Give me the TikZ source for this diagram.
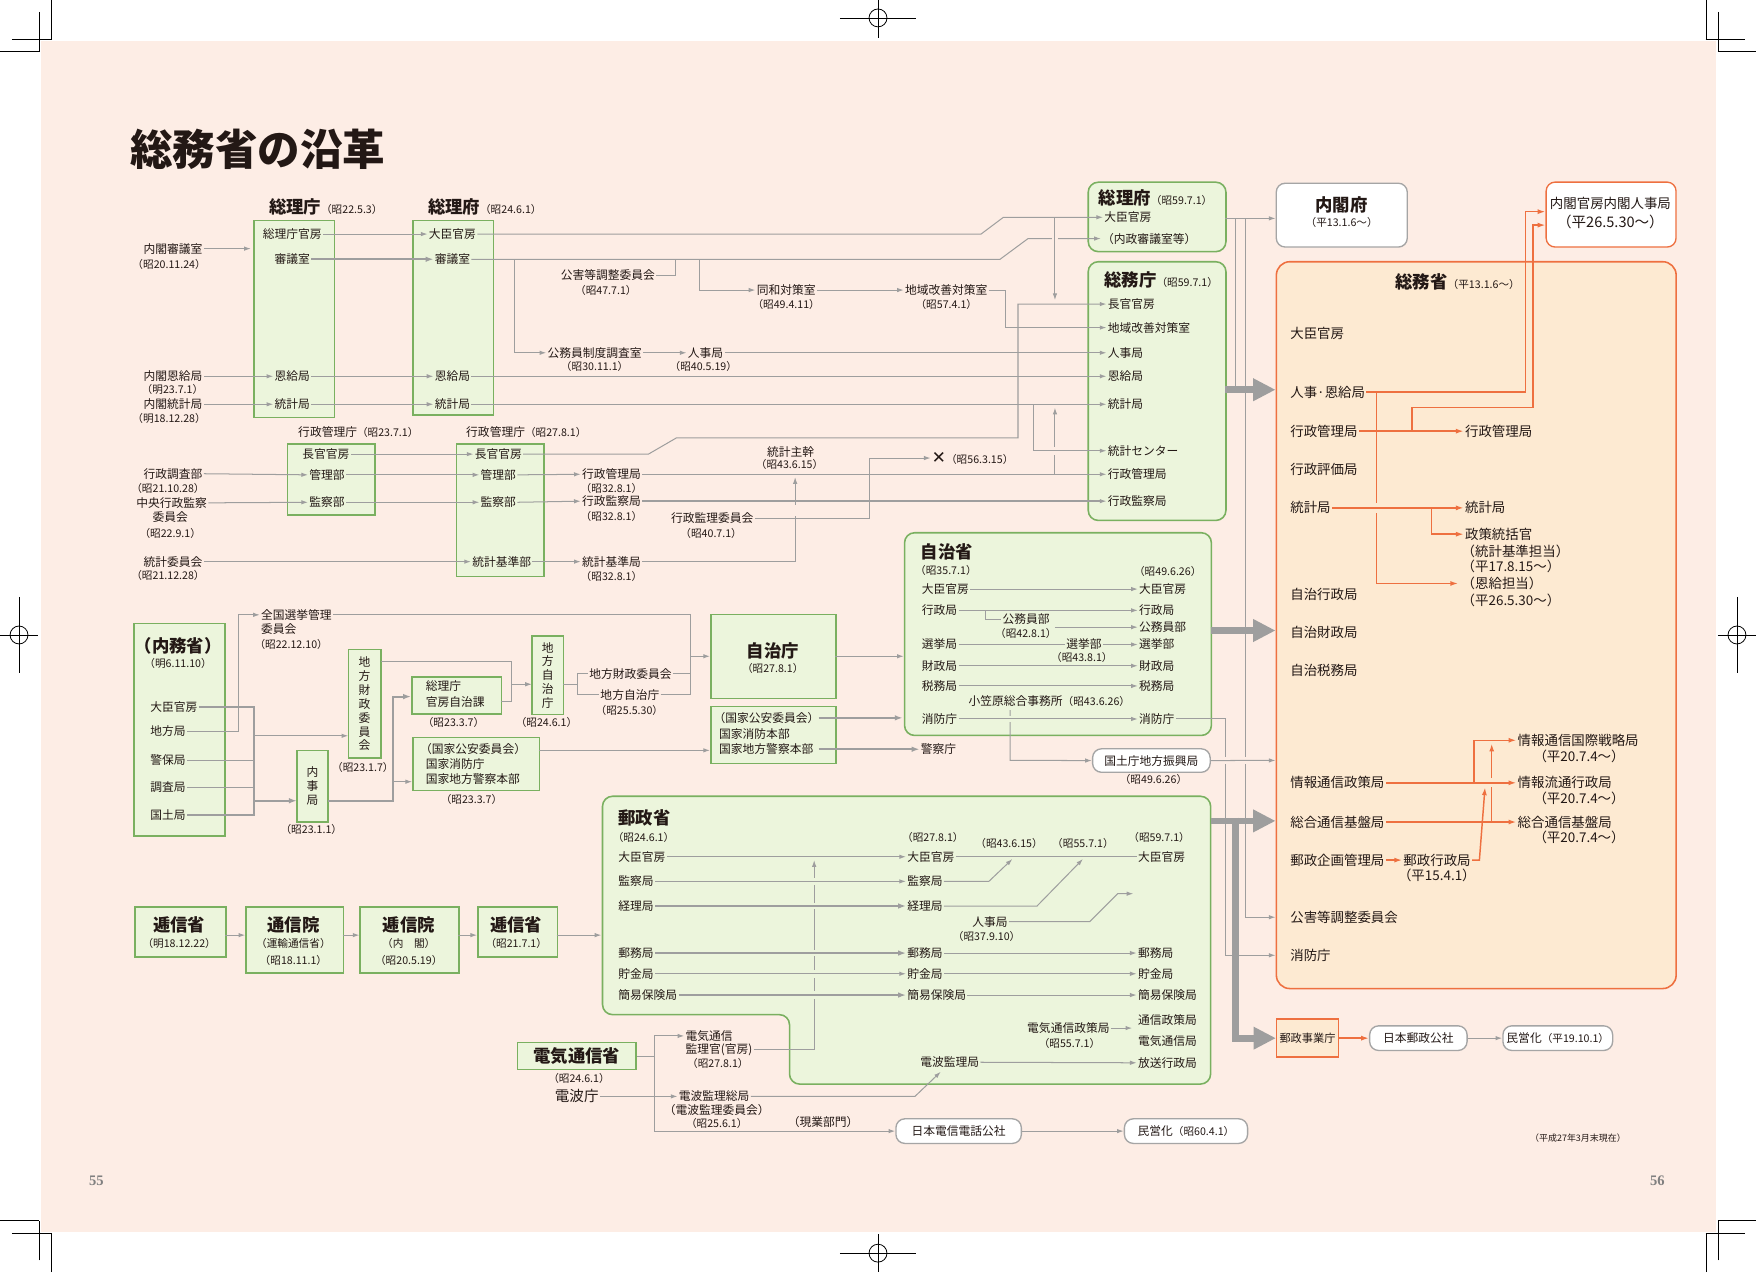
\documentclass[tikz,border=0pt]{standalone}
\usepackage{fontspec}
\setmainfont{Noto Sans CJK JP}
\newfontfamily\djv{DejaVu Sans}
\newfontfamily\pgserif{Liberation Serif}
\usetikzlibrary{arrows.meta}
\newcommand\szA{\fontsize{10.5}{12.5}\selectfont}
\newcommand\szD{\fontsize{9.5}{11}\selectfont\mdseries}
\newcommand\szH{\fontsize{15.5}{17}\selectfont\bfseries}
\newcommand\szM{\fontsize{12}{14.5}\selectfont}
\newcommand\szT{\fontsize{8}{9}\selectfont}
\definecolor{bgp}{RGB}{253,237,229}
\definecolor{gfill}{RGB}{236,245,220}
\definecolor{gline}{RGB}{122,176,96}
\definecolor{ofill}{RGB}{253,234,210}
\definecolor{oline}{RGB}{238,112,64}
\definecolor{lg}{RGB}{158,158,158}
\definecolor{wbd}{RGB}{165,165,165}
\definecolor{txt}{RGB}{35,24,21}
\tikzset{
 tx/.style={font=\szA, inner sep=1pt, text=txt},
 dtx/.style={font=\szD, inner sep=1pt, text=txt},
 hdx/.style={font=\szH, inner sep=1pt, text=txt},
 mdx/.style={font=\szM, inner sep=1pt, text=txt},
 lnn/.style={draw=lg, line width=0.9pt},
 lnk/.style={draw=lg, line width=1.8pt},
 arw/.style={lnn, -{Latex[length=6pt,width=4pt]}},
 arwk/.style={lnk, -{Latex[length=7pt,width=5pt]}},
 bigarw/.style={draw=lg, line width=6pt, -{Triangle[length=20pt,width=19pt]}},
 oarw/.style={draw=oline, line width=1.3pt, -{Latex[length=7pt,width=4.5pt]}},
 oln/.style={draw=oline, line width=1.3pt},
 gbn/.style={draw=gline, fill=gfill, line width=1.4pt, inner sep=0pt, anchor=north west},
 gbr/.style={gbn, rounded corners=9pt},
 wbx/.style={draw=wbd, fill=white, line width=1.2pt, rounded corners=8pt, inner sep=0pt, font=\szA, text=txt},
 vtx/.style={gbn, anchor=center, align=center, font=\fontsize{10.5}{12.4}\selectfont, text=txt},
 gapp/.style={draw=bgp, line width=4pt},
 gapo/.style={draw=ofill, line width=4pt},
 gapg/.style={draw=gfill, line width=4pt},
 cropm/.style={draw=black, line width=0.7pt},
}
\begin{document}
\begin{tikzpicture}[x=1pt,y=-1pt]
\useasboundingbox (0,0) rectangle (1568,1136);
% ---------- page ----------
\fill[white] (0,0) rectangle (1568,1136);
\fill[bgp] (37,37) rectangle (1532,1100);
% crop marks
\draw[cropm] (45.5,0) -- (45.5,35); \draw[cropm] (35,10.5) -- (35,46);
\draw[cropm] (10.5,35) -- (46,35); \draw[cropm] (0,46) -- (35,46);
\draw[cropm] (1523.5,0) -- (1523.5,35); \draw[cropm] (1534,10.5) -- (1534,46);
\draw[cropm] (1523,35) -- (1558.5,35); \draw[cropm] (1534,46) -- (1568,46);
\draw[cropm] (45.5,1136) -- (45.5,1101); \draw[cropm] (35,1125.5) -- (35,1090);
\draw[cropm] (10.5,1101) -- (46,1101); \draw[cropm] (0,1090) -- (35,1090);
\draw[cropm] (1523.5,1136) -- (1523.5,1101); \draw[cropm] (1534,1125.5) -- (1534,1090);
\draw[cropm] (1523,1101) -- (1558.5,1101); \draw[cropm] (1534,1090) -- (1568,1090);
% registration marks
\draw[cropm] (784,16) circle (8); \draw[cropm] (750,16) -- (818,16); \draw[cropm] (784,0) -- (784,34);
\draw[cropm] (784,1119) circle (8); \draw[cropm] (750,1119) -- (818,1119); \draw[cropm] (784,1102) -- (784,1136);
\draw[cropm] (17,567) circle (8); \draw[cropm] (0,567) -- (34,567); \draw[cropm] (17,533) -- (17,601);
\draw[cropm] (1551,567) circle (8); \draw[cropm] (1534,567) -- (1568,567); \draw[cropm] (1551,533) -- (1551,601);
\node[font=\pgserif\bfseries\fontsize{13}{15}\selectfont, text=gray] (p55) at (86,1054) {55};
\node[font=\pgserif\bfseries\fontsize{13}{15}\selectfont, text=gray] (p56) at (1480,1054) {56};
% title
\node[anchor=west, font=\fontsize{38}{42}\selectfont\bfseries, text=txt, inner sep=0] (title) at (116,133) {総務省の沿革};

% ---------- boxes ----------
\node[gbn, minimum width=72pt, minimum height=176pt] (B1) at (226,196) {};
\node[gbn, minimum width=72pt, minimum height=174pt] (B2) at (368,196) {};
\node[gbn, minimum width=78pt, minimum height=63pt] (E1) at (256,396) {};
\node[gbn, minimum width=78pt, minimum height=118pt] (E2) at (407,396) {};
\node[gbr, minimum width=123pt, minimum height=62pt] (C1) at (971,162) {};
\node[gbr, minimum width=123pt, minimum height=231pt] (D1) at (971,233) {};
\node[wbx, anchor=north west, minimum width=117pt, minimum height=57pt] (KF) at (1139,163) {};
\node[wbx, draw=oline, anchor=north west, minimum width=116pt, minimum height=58pt] (JKB) at (1380,162) {};
\node[draw=oline, fill=ofill, line width=1.4pt, rounded corners=12pt, anchor=north west, minimum width=357pt, minimum height=649pt, inner sep=0] (SM) at (1139,233) {};
\node[gbn, minimum width=81pt, minimum height=190pt] (NM) at (119,556) {};
\node[vtx, minimum width=29pt, minimum height=97pt] (ZZ) at (325.5,628.5) {地\\方\\財\\政\\委\\員\\会};
\node[vtx, minimum width=28pt, minimum height=64pt] (NJ) at (279,702) {内\\事\\局};
\node[vtx, minimum width=28pt, minimum height=70pt] (CJ) at (489,603) {地\\方\\自\\治\\庁};
\node[gbn, minimum width=80pt, minimum height=33pt] (JKK) at (367,604) {};
\node[gbn, minimum width=113pt, minimum height=47pt] (KK1) at (368,658) {};
\node[gbn, minimum width=112pt, minimum height=75pt] (JC) at (634,548) {};
\node[gbn, minimum width=112pt, minimum height=51pt] (KK2) at (634,630) {};
\node[gbr, minimum width=274pt, minimum height=181pt] (JS) at (807,475) {};
\draw[draw=gline, fill=gfill, line width=1.4pt, rounded corners=9pt] (538,711) -- (1081,711) -- (1081,968) -- (705,968) -- (705,906) -- (538,906) -- cycle;
\node[gbn, minimum width=81pt, minimum height=45pt] (T1) at (120,809) {};
\node[gbn, minimum width=87pt, minimum height=59pt] (T2) at (219,809) {};
\node[gbn, minimum width=88pt, minimum height=59pt] (T3) at (321,809) {};
\node[gbn, minimum width=71pt, minimum height=45pt] (T4) at (426,809) {};
\node[gbn, anchor=center, minimum width=106pt, minimum height=24pt, font=\szH, text=txt] (DT) at (515,943) {電気通信省};

% ---------- texts: top left ----------
\node[hdx, anchor=west] (tSR) at (239,185) {総理庁{\szD（昭22.5.3）}};
\node[tx] (a1) at (261,209) {総理庁官房};
\node[tx] (a2) at (261,231.5) {審議室};
\node[tx] (a3) at (261,336) {恩給局};
\node[tx] (a4) at (261,361) {統計局};
\node[hdx, anchor=west] (tSF) at (381,185) {総理府{\szD（昭24.6.1）}};
\node[tx] (b1) at (404,209) {大臣官房};
\node[tx] (b2) at (404,231.5) {審議室};
\node[tx] (b3) at (404,336) {恩給局};
\node[tx] (b4) at (404,361) {統計局};
\node[tx, anchor=east] (nS) at (182,222) {内閣審議室};
\node[dtx] (nSd) at (151,236) {（昭20.11.24）};
\node[tx, anchor=east] (nO) at (182,336) {内閣恩給局};
\node[dtx] (nOd) at (154,348) {（明23.7.1）};
\node[tx, anchor=east] (nT) at (182,361) {内閣統計局};
\node[dtx] (nTd) at (151,374) {（明18.12.28）};
\node[tx, anchor=east] (kogai) at (586,246) {公害等調整委員会};
\node[dtx] (kogaid) at (541,259) {（昭47.7.1）};
\node[tx] (dowa) at (702,259) {同和対策室};
\node[dtx] (dowad) at (702,272) {（昭49.4.11）};
\node[tx] (chiiki) at (845,259) {地域改善対策室};
\node[dtx] (chiikid) at (845,272) {（昭57.4.1）};
\node[tx] (kfs) at (531,315) {公務員制度調査室};
\node[dtx] (kfsd) at (531,327.5) {（昭30.11.1）};
\node[tx] (jinji) at (630,315) {人事局};
\node[dtx] (jinjid) at (628,327.5) {（昭40.5.19）};
% 行政管理庁
\node[tx] (gk23) at (320,386) {行政管理庁{\szD（昭23.7.1）}};
\node[tx] (e1) at (291,405.5) {長官官房};
\node[tx] (e2) at (292,424) {管理部};
\node[tx] (e3) at (292,448.5) {監察部};
\node[tx, anchor=east] (gcb) at (182,423) {行政調査部};
\node[dtx] (gcbd) at (150,436) {（昭21.10.28）};
\node[tx, anchor=east] (ckg) at (186,449) {中央行政監察};
\node[tx] (ckg2) at (152,462) {委員会};
\node[dtx] (ckgd) at (152,476) {（昭22.9.1）};
\node[tx, anchor=east] (tki) at (182,501.5) {統計委員会};
\node[dtx] (tkid) at (150,514) {（昭21.12.28）};
\node[tx] (gk27) at (470,386) {行政管理庁{\szD（昭27.8.1）}};
\node[tx] (f1) at (445,405.5) {長官官房};
\node[tx] (f2) at (445,424) {管理部};
\node[tx] (f3) at (445,448.5) {監察部};
\node[tx] (f4) at (448,501.5) {統計基準部};
\node[tx] (g2) at (546,423.5) {行政管理局};
\node[dtx] (g2d) at (546,436) {（昭32.8.1）};
\node[tx] (g3) at (546,447.5) {行政監察局};
\node[dtx] (g3d) at (546,461) {（昭32.8.1）};
\node[tx] (g4) at (546,501.5) {統計基準局};
\node[dtx] (g4d) at (546,515) {（昭32.8.1）};
\node[tx] (tks) at (706,404) {統計主幹};
\node[dtx] (tksd) at (705,415) {（昭43.6.15）};
\node[tx] (gki) at (636,463) {行政監理委員会};
\node[dtx] (gkid) at (635,476) {（昭40.7.1）};
\node[tx, anchor=west] (batsu) at (831,409) {{\djv\fontsize{15}{16}\selectfont ✕}{\szD（昭56.3.15）}};
% 総理府(59) / 総務庁(59)
\node[hdx, anchor=west] (tC1) at (980,177) {総理府{\szD（昭59.7.1）}};
\node[tx, anchor=west] (c1) at (985,194) {大臣官房};
\node[tx, anchor=west] (c2) at (983,213) {（内政審議室等）};
\node[hdx, anchor=west] (tD1) at (985,250) {総務庁{\szD（昭59.7.1）}};
\node[tx, anchor=west] (d1) at (988,271.5) {長官官房};
\node[tx, anchor=west] (d2) at (988,292.5) {地域改善対策室};
\node[tx, anchor=west] (d3) at (988,315) {人事局};
\node[tx, anchor=west] (d4) at (988,336) {恩給局};
\node[tx, anchor=west] (d5) at (988,361) {統計局};
\node[tx, anchor=west] (d6) at (988,402.5) {統計センター};
\node[tx, anchor=west] (d7) at (988,423.5) {行政管理局};
\node[tx, anchor=west] (d8) at (988,447.5) {行政監察局};
% 内閣府 / 人事局 / 総務省
\node[hdx] (tKF) at (1198,183) {内閣府};
\node[dtx] (tKFd) at (1198,199) {（平13.1.6～）};
\node[mdx] (tJK) at (1438,182) {内閣官房内閣人事局};
\node[mdx, font=\fontsize{13}{15}\selectfont] (tJKd) at (1438,198) {（平26.5.30～）};
\node[hdx, anchor=west] (tSM) at (1245,252) {総務省{\szD（平13.1.6～）}};
\node[mdx, anchor=west] (s1) at (1151,298) {大臣官房};
\node[mdx, anchor=west] (s2) at (1151,350) {人事·恩給局};
\node[mdx, anchor=west] (s3) at (1151,385) {行政管理局};
\node[mdx, anchor=west] (s4) at (1151,419) {行政評価局};
\node[mdx, anchor=west] (s5) at (1151,453.5) {統計局};
\node[mdx, anchor=west] (s6) at (1151,531) {自治行政局};
\node[mdx, anchor=west] (s7) at (1151,565) {自治財政局};
\node[mdx, anchor=west] (s8) at (1151,599) {自治税務局};
\node[mdx, anchor=west] (s9) at (1151,699) {情報通信政策局};
\node[mdx, anchor=west] (s10) at (1151,734) {総合通信基盤局};
\node[mdx, anchor=west] (s11) at (1151,768) {郵政企画管理局};
\node[mdx, anchor=west] (s11b) at (1252,768) {郵政行政局};
\node[mdx] (s11d) at (1283,782) {（平15.4.1）};
\node[mdx, anchor=west] (s12) at (1151,819) {公害等調整委員会};
\node[mdx, anchor=west] (s13) at (1151,853) {消防庁};
\node[mdx, anchor=west] (r1) at (1307,385) {行政管理局};
\node[mdx, anchor=west] (r2) at (1307,453.5) {統計局};
\node[mdx, anchor=west] (r3) at (1307,477) {政策統括官};
\node[mdx, anchor=west] (r3a) at (1304,492) {（統計基準担当）};
\node[mdx, anchor=west] (r3b) at (1304,506) {（平17.8.15～）};
\node[mdx, anchor=west] (r3c) at (1304,521) {（恩給担当）};
\node[mdx, anchor=west] (r3d) at (1304,536) {（平26.5.30～）};
\node[mdx, anchor=west] (r4) at (1354,661) {情報通信国際戦略局};
\node[mdx] (r4d) at (1410,675) {（平20.7.4～）};
\node[mdx, anchor=west] (r5) at (1354,699) {情報流通行政局};
\node[mdx] (r5d) at (1410,712.5) {（平20.7.4～）};
\node[mdx, anchor=west] (r6) at (1354,734) {総合通信基盤局};
\node[mdx] (r6d) at (1410,747.5) {（平20.7.4～）};
% 内務省 etc.
\node[hdx] (tNM) at (159,577) {（内務省）};
\node[dtx] (tNMd) at (159,592) {（明6.11.10）};
\node[tx, anchor=west] (n1) at (133,631) {大臣官房};
\node[tx, anchor=west] (n2) at (133,653) {地方局};
\node[tx, anchor=west] (n3) at (133,679) {警保局};
\node[tx, anchor=west] (n4) at (133,703) {調査局};
\node[tx, anchor=west] (n5) at (133,728) {国土局};
\node[tx, anchor=west] (zsk1) at (232,549) {全国選挙管理};
\node[tx, anchor=west] (zsk2) at (232,562) {委員会};
\node[dtx] (zsk3) at (260,575.5) {（昭22.12.10）};
\node[dtx] (ZZd) at (324,685) {（昭23.1.7）};
\node[dtx] (NJd) at (278,741) {（昭23.1.1）};
\node[tx, anchor=west] (jk1) at (379,613) {総理庁};
\node[tx, anchor=west] (jk2) at (379,627) {官房自治課};
\node[dtx] (jkd) at (405,645) {（昭23.3.7）};
\node[tx, anchor=west] (kk1) at (374,669) {（国家公安委員会）};
\node[tx, anchor=west] (kk2) at (379,682.5) {国家消防庁};
\node[tx, anchor=west] (kk3) at (379,696) {国家地方警察本部};
\node[dtx] (kkd) at (421,714) {（昭23.3.7）};
\node[dtx] (CJd) at (488,645) {（昭24.6.1）};
\node[tx, anchor=west] (lbl1) at (525,601.5) {地方財政委員会};
\node[tx, anchor=west] (lbl2) at (535,620.5) {地方自治庁};
\node[dtx] (lbl2d) at (562,634) {（昭25.5.30）};
\node[hdx] (tJC) at (690,581) {自治庁};
\node[dtx] (tJCd) at (690,597) {（昭27.8.1）};
\node[tx, anchor=west] (q1) at (636,641) {（国家公安委員会）};
\node[tx, anchor=west] (q2) at (641,655) {国家消防本部};
\node[tx, anchor=west] (q3) at (641,669) {国家地方警察本部};
\node[tx] (keisatsu) at (838,669) {警察庁};
% 自治省
\node[hdx, anchor=west] (tJS) at (821,493) {自治省};
\node[dtx, anchor=west] (tJSd) at (816,509) {（昭35.7.1）};
\node[dtx, anchor=east] (tJSd2) at (1074,510) {（昭49.6.26）};
\node[tx, anchor=west] (jL1) at (822,526) {大臣官房};
\node[tx, anchor=west] (jL2) at (822,545) {行政局};
\node[tx, anchor=west] (jL3) at (822,575.5) {選挙局};
\node[tx, anchor=west] (jL4) at (822,594.5) {財政局};
\node[tx, anchor=west] (jL5) at (822,612.5) {税務局};
\node[tx, anchor=west] (jL6) at (822,642) {消防庁};
\node[tx, anchor=west] (jR1) at (1016,526) {大臣官房};
\node[tx, anchor=west] (jR2) at (1016,545) {行政局};
\node[tx, anchor=west] (jR3) at (1016,560) {公務員部};
\node[tx, anchor=west] (jR4) at (1016,575.5) {選挙部};
\node[tx, anchor=west] (jR5) at (1016,594.5) {財政局};
\node[tx, anchor=west] (jR6) at (1016,612.5) {税務局};
\node[tx, anchor=west] (jR7) at (1016,642) {消防庁};
\node[tx, anchor=west] (jM1) at (894,553) {公務員部};
\node[dtx] (jM1d) at (916,566) {（昭42.8.1）};
\node[tx] (jM2) at (968,575.5) {選挙部};
\node[dtx] (jM2d) at (966,587) {（昭43.8.1）};
\node[tx] (ogs) at (937,626) {小笠原総合事務所{\szD（昭43.6.26）}};
\node[wbx, anchor=north west, minimum width=105pt, minimum height=21pt] (kokudo) at (975,668) {国土庁地方振興局};
\node[dtx] (kokudod) at (1030,696) {（昭49.6.26）};
% 逓信
\node[hdx] (t1) at (160,826) {逓信省};
\node[dtx] (t1d) at (160,842) {（明18.12.22）};
\node[hdx] (t2) at (262,826) {通信院};
\node[dtx] (t2d) at (262,842) {（運輸通信省）};
\node[dtx] (t2e) at (262,858) {（昭18.11.1）};
\node[hdx] (t3) at (365,826) {逓信院};
\node[dtx] (t3d) at (365,842) {（内　閣）};
\node[dtx] (t3e) at (365,858) {（昭20.5.19）};
\node[hdx] (t4) at (461,826) {逓信省};
\node[dtx] (t4d) at (461,842) {（昭21.7.1）};
% 郵政省
\node[hdx, anchor=west] (tYS) at (551,730) {郵政省};
\node[dtx, anchor=west] (tYSd) at (546,748) {（昭24.6.1）};
\node[dtx] (yMd) at (833,748) {（昭27.8.1）};
\node[dtx] (yMd2) at (901,753) {（昭43.6.15）};
\node[dtx] (yMd3) at (967,753) {（昭55.7.1）};
\node[dtx] (yRd) at (1035,748) {（昭59.7.1）};
\node[tx, anchor=west] (yL1) at (551,765) {大臣官房};
\node[tx, anchor=west] (yL2) at (551,787) {監察局};
\node[tx, anchor=west] (yL3) at (551,809) {経理局};
\node[tx, anchor=west] (yL4) at (551,851) {郵務局};
\node[tx, anchor=west] (yL5) at (551,869.5) {貯金局};
\node[tx, anchor=west] (yL6) at (551,888.5) {簡易保険局};
\node[tx, anchor=west] (yM1) at (809,765) {大臣官房};
\node[tx, anchor=west] (yM2) at (809,787) {監察局};
\node[tx, anchor=west] (yM3) at (809,809) {経理局};
\node[tx, anchor=west] (yM4) at (809,851) {郵務局};
\node[tx, anchor=west] (yM5) at (809,869.5) {貯金局};
\node[tx, anchor=west] (yM6) at (809,888.5) {簡易保険局};
\node[tx, anchor=west] (yR1) at (1015,765) {大臣官房};
\node[tx, anchor=west] (yR4) at (1015,851) {郵務局};
\node[tx, anchor=west] (yR5) at (1015,869.5) {貯金局};
\node[tx, anchor=west] (yR6) at (1015,888.5) {簡易保険局};
\node[tx, anchor=west] (yR7) at (1015,911) {通信政策局};
\node[tx, anchor=west] (yR8) at (1015,929.5) {電気通信局};
\node[tx, anchor=west] (yR9) at (1015,949) {放送行政局};
\node[tx] (yJ) at (884,823) {人事局};
\node[dtx] (yJd) at (881,836) {（昭37.9.10）};
\node[tx] (yDT) at (954,918) {電気通信政策局};
\node[dtx] (yDTd) at (955,932) {（昭55.7.1）};
\node[tx] (yDH) at (848,948.5) {電波監理局};
% 電気通信省
\node[dtx] (DTd) at (517,963) {（昭24.6.1）};
\node[tx, font=\fontsize{13}{15}\selectfont] (DP) at (515,979) {電波庁};
\node[tx, anchor=west] (dk1) at (611,925) {電気通信};
\node[tx, anchor=west] (dk2) at (611,937.5) {監理官(官房)};
\node[dtx] (dk3) at (641,950) {（昭27.8.1）};
\node[tx, anchor=west] (dp1) at (605,979) {電波監理総局};
\node[tx] (dp2) at (640,991) {（電波監理委員会）};
\node[dtx] (dp3) at (640,1003) {（昭25.6.1）};
\node[tx] (gen) at (735,1002) {（現業部門）};
\node[wbx, minimum width=112pt, minimum height=22pt] (NTT) at (856,1010) {日本電信電話公社};
\node[wbx, minimum width=110pt, minimum height=22pt] (MN1) at (1059,1010) {民営化{\szD（昭60.4.1）}};
\node[draw=oline, fill=ofill, line width=1.3pt, minimum width=55pt, minimum height=34pt, font=\fontsize{10}{12}\selectfont, text=txt, inner sep=0] (YJ) at (1167.5,927) {郵政事業庁};
\node[wbx, minimum width=87pt, minimum height=22pt] (JP) at (1266.5,927) {日本郵政公社};
\node[wbx, minimum width=98pt, minimum height=22pt] (MN2) at (1391,927) {民営化{\szD（平19.10.1）}};
\node[font=\szT, text=txt] (asof) at (1409,1016) {（平成27年3月末現在）};

% ---------- connectors: top ----------
\draw[arw] (nS.east) -- (224,222);
\draw[arw] (nO.east) -- (a3.west);
\draw[arw] (nT.east) -- (a4.west);
\draw[arw] (a1.east) -- (b1.west);
\draw[arwk] (a2.east) -- (b2.west);
\draw[arw] (a3.east) -- (b3.west);
\draw[arw] (a4.east) -- (b4.west);
\draw[arw] (b1.east) -- (876,209) -- (896,194) -- (c1.west);
\draw[arw] (b2.east) -- (893,231.5) -- (918,213) -- (c2.west);
\draw[gapp] (939,213) -- (945,213);
\draw[arw] (942,194) -- (942,268);
\draw[lnn] (603,231.5) -- (603,246) -- (kogai.east);
\draw[arw] (625,231.5) -- (625,259) -- (dowa.west);
\draw[arw] (dowa.east) -- (chiiki.west);
\draw[arw] (chiiki.east) -- (898,259) -- (898,292.5) -- (d2.west);
\draw[arw] (459,231.5) -- (459,315) -- (kfs.west);
\draw[arw] (kfs.east) -- (jinji.west);
\draw[arw] (jinji.east) -- (d3.west);
\draw[arw] (b3.east) -- (d4.west);
\draw[arw] (b4.east) -- (d5.west);
% 行政管理庁
\draw[arw] (gcb.east) -- (e2.west);
\draw[arw] (ckg.east) -- (e3.west);
\draw[arw] (tki.east) -- (f4.west);
\draw[arw] (e1.east) -- (f1.west);
\draw[arw] (e2.east) -- (f2.west);
\draw[arw] (e3.east) -- (f3.west);
\draw[arw] (f2.east) -- (g2.west);
\draw[arw] (f3.east) -- (g3.west);
\draw[arw] (f4.east) -- (g4.west);
\draw[arw] (f1.east) -- (579,405.5) -- (604,391) -- (909,391) -- (909,271.5) -- (d1.west);
\draw[arw] (g4.east) -- (710,501.5) -- (710,426);
\draw[gapp] (710,451) -- (710,461);
\draw[arw] (g2.east) -- (d7.west);
\draw[lnk] (g3.east) -- (984,447.5);
\draw[arw] (984,447.5) -- (d8.west);
\draw[arw] (gki.east) -- (776,463) -- (776,409) -- (batsu.west);
\draw[arw] (942,423.5) -- (942,364);
\draw[gapp] (942,399) -- (942,406);
\draw[arw] (923,361) -- (923,402.5) -- (d6.west);
% to 内閣府 / 総務省
\draw[arw] (1094,195) -- (1139,195);
\draw[lnn] (1103,195) -- (1103,348);
\draw[arw] (1112,195) -- (1112,819) -- (1139,819);
\draw[bigarw] (1094,348) -- (1139,348);
\draw[bigarw] (1081,563) -- (1139,563);
\draw[arw] (jR7.east) -- (1094,642) -- (1094,853) -- (1139,853);
\draw[gapp] (1094,676) -- (1094,682);
\draw[gapp] (1112,676) -- (1112,682);
\draw[arw] (kokudo.east) -- (1139,679);
\draw[bigarw] (1103,730) -- (1103,927) -- (YJ.west);
\draw[bigarw] (1081,733) -- (1139,733);
% orange connectors
\draw[oarw] (s2.east) -- (1362,350) -- (1362,189) -- (1380,189);
\draw[oarw] (1229,350) -- (1229,521) -- (1302,521);
\draw[gapo] (1229,449) -- (1229,458);
\draw[oarw] (1261,385) -- (1261,364) -- (1369,364) -- (1369,201) -- (1380,201);
\draw[oarw] (s3.east) -- (r1.west);
\draw[oarw] (s5.east) -- (r2.west);
\draw[oarw] (1278,453.5) -- (1278,477) -- (r3.west);
\draw[oarw] (1332,734) -- (1332,664);
\draw[gapo] (1332,695) -- (1332,703);
\draw[oarw] (s9.east) -- (r5.west);
\draw[oarw] (1316,699) -- (1316,661) -- (r4.west);
\draw[oarw] (s10.east) -- (r6.west);
\draw[oarw] (s11.east) -- (s11b.west);
\draw[oarw] (s11b.east) -- (1321,768) -- (1326,703);
% 内務省 side
\draw[lnk] (n1.east) -- (227,631) -- (227,728) -- (n5.east);
\draw[lnn] (n3.east) -- (227,679);
\draw[lnn] (n4.east) -- (227,703);
\draw[arw] (227,657) -- (311,657);
\draw[arwk] (227,715) -- (265,715);
\draw[arw] (n2.east) -- (213,653) -- (213,549) -- (zsk1.west);
\draw[lnk] (293,715) -- (351,715) -- (351,630);
\draw[arwk] (351,632) -- (351,622) -- (367,622);
\draw[arw] (351,698) -- (368,698);
\draw[lnn] (340,591) -- (457,591) -- (457,626) -- (447,626);
\draw[arw] (457,611) -- (475,611);
\draw[lnn] (503,611) -- (516,611);
\draw[lnn] (lbl1.west) -- (516,601.5) -- (516,620.5) -- (lbl2.west);
\draw[lnn] (zsk1.east) -- (617,549) -- (617,620.5);
\draw[lnn] (lbl1.east) -- (617,601.5);
\draw[lnn] (lbl2.east) -- (617,620.5);
\draw[arw] (617,586) -- (634,586);
\draw[arw] (481,670) -- (634,670);
\draw[arw] (746,586) -- (807,586);
\draw[arwk] (731,641) -- (806,641);
\draw[arwk] (731,669) -- (keisatsu.west);
% 自治省 inside
\draw[arw] (jL1.east) -- (jR1.west);
\draw[arw] (jL2.east) -- (jR2.west);
\draw[lnn] (880,545) -- (880,553) -- (jM1.west);
\draw[arw] (942,560) -- (jR3.west);
\draw[lnn] (jL3.east) -- (jM2.west);
\draw[arw] (jM2.east) -- (jR4.west);
\draw[arw] (jL4.east) -- (jR5.west);
\draw[arw] (jL5.east) -- (jR6.west);
\draw[arw] (902,634) -- (902,679) -- (kokudo.west);
\draw[gapg] (902,639) -- (902,645);
\draw[arw] (jL6.east) -- (jR7.west);
% 逓信
\draw[arw] (201,835) -- (219,835);
\draw[arw] (306,835) -- (321,835);
\draw[arw] (409,835) -- (426,835);
\draw[arw] (497,835) -- (537,835);
% 郵政省 inside
\draw[arw] (dk2.east) -- (727,937.5) -- (727,768);
\draw[gapg] (727,784) -- (727,790);
\draw[gapg] (727,806) -- (727,812);
\draw[gapg] (727,848) -- (727,854);
\draw[gapg] (727,866) -- (727,873);
\draw[gapg] (727,885) -- (727,892);
\draw[arw] (yL1.east) -- (yM1.west);
\draw[arw] (yL2.east) -- (yM2.west);
\draw[arwk] (yL3.east) -- (yM3.west);
\draw[arwk] (yL4.east) -- (yM4.west);
\draw[arw] (yL5.east) -- (yM5.west);
\draw[arwk] (yL6.east) -- (yM6.west);
\draw[lnn] (yM1.east) -- (yR1.west);
\draw[arw] (yM2.east) -- (883,787) -- (904,767);
\draw[arw] (yM3.east) -- (926,809) -- (967,767);
\draw[arw] (yJ.east) -- (973,823) -- (998,798) -- (1012,798);
\draw[arw] (yM4.east) -- (yR4.west);
\draw[arw] (yM5.east) -- (yR5.west);
\draw[arw] (yM6.east) -- (yR6.west);
\draw[arw] (yDT.east) -- (1011,918);
\draw[arw] (yDH.east) -- (yR9.west);
% 電気通信省
\draw[lnn] (DT.east) -- (584,943);
\draw[arw] (584,1010) -- (584,925) -- (dk1.west);
\draw[arw] (584,943) -- (584,1010) -- (NTT.west);
\draw[arw] (DP.east) -- (dp1.west);
\draw[arw] (dp1.east) -- (817,979) -- (840,957);
\draw[arw] (NTT.east) -- (MN1.west);
\draw[oarw] (YJ.east) -- (JP.west);
\draw[arw] (JP.east) -- (MN2.west);
\end{tikzpicture}
\end{document}
